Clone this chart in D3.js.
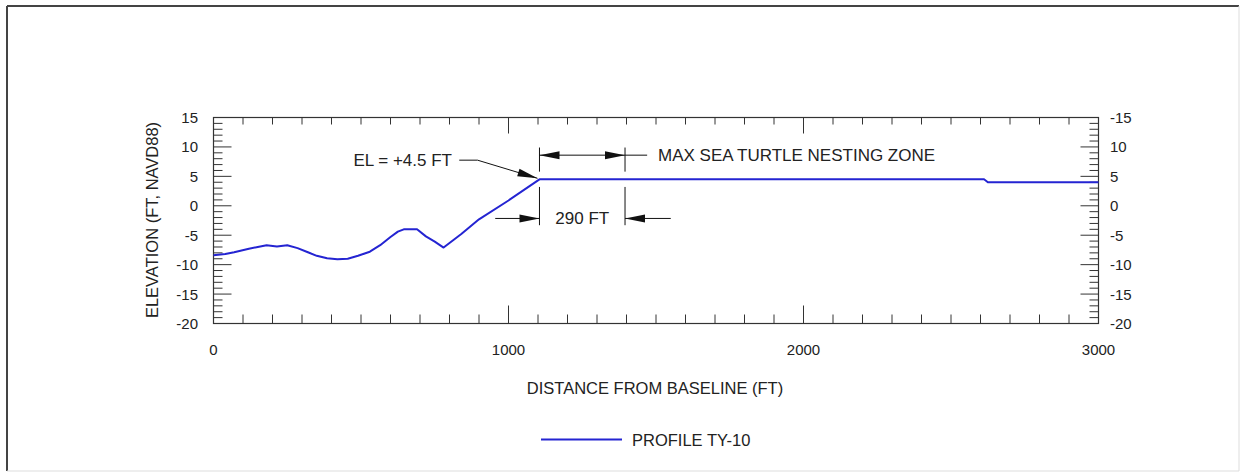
<!DOCTYPE html>
<html>
<head>
<meta charset="utf-8">
<script src="https://cdn.jsdelivr.net/npm/d3@7/dist/d3.min.js"></script>
<style>
  html, body { margin: 0; padding: 0; background: #fff; }
  svg text { font-family: "Liberation Sans", Arial, sans-serif; fill: #222; }
</style>
</head>
<body>
<svg id="chart" width="1247" height="475"></svg>
<script>
// Beach profile TY-10: distance from baseline (ft) vs elevation (ft, NAVD88)
const distance  = [0, 40, 70, 120, 150, 180, 215, 250, 285, 320, 350, 385, 420, 455, 490, 530, 565, 600, 625, 645, 690, 720, 750, 780, 840, 900, 1000, 1105, 2612, 2625, 3000];
const elevation = [-8.4, -8.2, -7.9, -7.3, -7.0, -6.7, -6.9, -6.7, -7.2, -7.9, -8.5, -8.9, -9.1, -9.0, -8.5, -7.8, -6.7, -5.3, -4.4, -4.0, -4.0, -5.2, -6.1, -7.1, -4.8, -2.3, 0.9, 4.5, 4.5, 4.0, 4.0];

const xTicks = [0, 1000, 2000, 3000];
const yTicks = [15, 10, 5, 0, -5, -10, -15, -20];
const leftTickLabels  = ["15", "10", "5", "0", "-5", "-10", "-15", "-20"];
const rightTickLabels = ["-15", "10", "5", "0", "-5", "-10", "-15", "-20"];

// Nesting zone annotation (data units)
const crestDistance = 1105;
const crestElevation = 4.5;
const zoneWidth = 290;

const svg = d3.select("#chart");

// outer frame
svg.append("line").attr("x1", 7).attr("y1", 6).attr("x2", 1239).attr("y2", 6).attr("stroke", "#444").attr("stroke-width", 2);
svg.append("line").attr("x1", 7).attr("y1", 6).attr("x2", 7).attr("y2", 471).attr("stroke", "#444").attr("stroke-width", 2);
svg.append("line").attr("x1", 1239).attr("y1", 6).attr("x2", 1239).attr("y2", 471).attr("stroke", "#ddd").attr("stroke-width", 1);
svg.append("line").attr("x1", 7).attr("y1", 471).attr("x2", 1239).attr("y2", 471).attr("stroke", "#ddd").attr("stroke-width", 1);

const plot = { left: 213.5, right: 1098.5, top: 117.5, bottom: 323.5 };
const x = d3.scaleLinear().domain([0, 3000]).range([plot.left, plot.right]);
const y = d3.scaleLinear().domain([-20, 15]).range([plot.bottom, plot.top]);

const axisColor = "#333";
const g = svg.append("g");

// plot frame
g.append("rect")
  .attr("x", plot.left).attr("y", plot.top)
  .attr("width", plot.right - plot.left).attr("height", plot.bottom - plot.top)
  .attr("fill", "none").attr("stroke", axisColor).attr("stroke-width", 1.2);

const majorLen = 18, minorLen = 9;

// x ticks (every 100 ft, major every 1000) on bottom and top, pointing inward
d3.range(0, 3001, 100).forEach(v => {
  const len = v % 1000 === 0 ? majorLen : minorLen;
  const px = x(v);
  g.append("line").attr("x1", px).attr("x2", px).attr("y1", plot.bottom).attr("y2", plot.bottom - len)
    .attr("stroke", axisColor).attr("stroke-width", 1);
  g.append("line").attr("x1", px).attr("x2", px).attr("y1", plot.top).attr("y2", plot.top + (v % 1000 === 0 ? 16 : 7))
    .attr("stroke", axisColor).attr("stroke-width", 1);
});

// y ticks (every 1 ft, major every 5) on left and right, pointing inward
d3.range(-20, 16, 1).forEach(v => {
  const len = v % 5 === 0 ? majorLen : minorLen;
  const py = y(v);
  g.append("line").attr("x1", plot.left).attr("x2", plot.left + len).attr("y1", py).attr("y2", py)
    .attr("stroke", axisColor).attr("stroke-width", 1);
  g.append("line").attr("x1", plot.right).attr("x2", plot.right - len).attr("y1", py).attr("y2", py)
    .attr("stroke", axisColor).attr("stroke-width", 1);
});

// tick labels
g.selectAll(".xl").data(xTicks).join("text")
  .attr("x", d => x(d)).attr("y", 355)
  .attr("text-anchor", "middle").attr("font-size", 15).text(d => d);

g.selectAll(".yl").data(yTicks).join("text")
  .attr("x", 198).attr("y", d => y(d) + 5.5)
  .attr("text-anchor", "end").attr("font-size", 15).text((d, i) => leftTickLabels[i]);

g.selectAll(".yr").data(yTicks).join("text")
  .attr("x", 1110).attr("y", d => y(d) + 5.5)
  .attr("text-anchor", "start").attr("font-size", 15).text((d, i) => rightTickLabels[i]);

// axis titles
svg.append("text").attr("x", 655).attr("y", 394).attr("text-anchor", "middle")
  .attr("font-size", 16.5).text("DISTANCE FROM BASELINE (FT)");
svg.append("text").attr("transform", "translate(158,220) rotate(-90)").attr("text-anchor", "middle")
  .attr("font-size", 16.5).text("ELEVATION (FT, NAVD88)");

// profile line
const lineColor = "#2424d2";
const pts = distance.map((d, i) => [d, elevation[i]]);
g.append("path").datum(pts)
  .attr("d", d3.line().x(d => x(d[0])).y(d => y(d[1])))
  .attr("fill", "none").attr("stroke", lineColor).attr("stroke-width", 2)
  .attr("stroke-linejoin", "round");

// annotation helpers
const ink = "#111";
function arrowHead(tipX, tipY, fromX, fromY) {
  const ang = Math.atan2(tipY - fromY, tipX - fromX);
  const L = 20, Wd = 4;
  const bx = tipX - L * Math.cos(ang), by = tipY - L * Math.sin(ang);
  const nx = -Math.sin(ang) * Wd, ny = Math.cos(ang) * Wd;
  g.append("path")
    .attr("d", `M${tipX},${tipY}L${bx + nx},${by + ny}L${bx - nx},${by - ny}Z`)
    .attr("fill", ink);
}
function seg(x1, y1, x2, y2) {
  g.append("line").attr("x1", x1).attr("y1", y1).attr("x2", x2).attr("y2", y2)
    .attr("stroke", ink).attr("stroke-width", 1);
}

const zx0 = x(crestDistance), zx1 = x(crestDistance + zoneWidth);

// upper dimension: nesting zone
const upY = y(8.6);
seg(zx0, y(9.9), zx0, y(5.8));
seg(zx1, y(9.9), zx1, y(5.8));
seg(zx0, upY, x(1470), upY);
arrowHead(zx0, upY, zx1, upY);
arrowHead(zx1, upY, zx0, upY);
svg.append("text").attr("x", 658).attr("y", upY + 6).attr("font-size", 17)
  .text("MAX SEA TURTLE NESTING ZONE");

// lower dimension: 290 FT
const loY = y(-2.15);
seg(zx0, y(3.2), zx0, y(-3.3));
seg(zx1, y(3.2), zx1, y(-3.3));
seg(x(955), loY, zx0, loY);
arrowHead(zx0, loY, x(955), loY);
seg(x(1550), loY, zx1, loY);
arrowHead(zx1, loY, x(1550), loY);
svg.append("text").attr("x", (zx0 + zx1) / 2).attr("y", loY + 6).attr("text-anchor", "middle")
  .attr("font-size", 17).text(zoneWidth + " FT");

// crest elevation callout
const elY = y(7.75);
seg(x(833), elY, x(895), elY);
const tipX = x(crestDistance) - 2, tipY = y(crestElevation) - 1;
seg(x(895), elY, tipX, tipY);
arrowHead(tipX, tipY, x(895), elY);
svg.append("text").attr("x", 452).attr("y", elY + 6).attr("text-anchor", "end")
  .attr("font-size", 17).text("EL = +4.5 FT");

// legend
svg.append("line").attr("x1", 541).attr("x2", 622).attr("y1", 439.5).attr("y2", 439.5)
  .attr("stroke", lineColor).attr("stroke-width", 2);
svg.append("text").attr("x", 632).attr("y", 445.5).attr("font-size", 16.5).text("PROFILE TY-10");
</script>
</body>
</html>
